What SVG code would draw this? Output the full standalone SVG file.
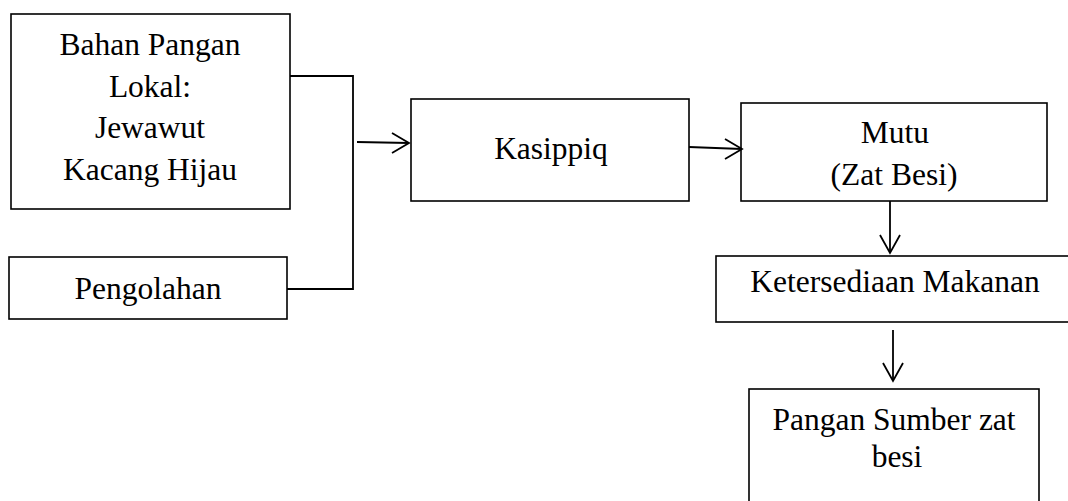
<svg xmlns="http://www.w3.org/2000/svg" width="1068" height="501" viewBox="0 0 1068 501">
<style>
.box{fill:#fff;stroke:#000;stroke-width:1.6}
.ln{fill:none;stroke:#000;stroke-width:1.8}
.ah{fill:none;stroke:#000;stroke-width:1.8;stroke-linejoin:miter}
text{font-family:"Liberation Serif","Times New Roman",serif;font-size:31.5px;fill:#000;text-anchor:middle}
</style>
<rect width="1068" height="501" fill="#fff"/>
<g id="bahan">
<rect class="box" x="11" y="14" width="279" height="195"/>
<text x="150" y="55">Bahan Pangan</text>
<text x="150" y="97">Lokal:</text>
<text x="150" y="138">Jewawut</text>
<text x="150" y="180">Kacang Hijau</text>
</g>
<g id="pengolahan">
<rect class="box" x="9" y="257" width="278" height="62"/>
<text x="148" y="299">Pengolahan</text>
</g>
<g id="kasippiq">
<rect class="box" x="411" y="99" width="278" height="102"/>
<text x="551" y="159">Kasippiq</text>
</g>
<g id="mutu">
<rect class="box" x="741" y="103" width="306" height="98"/>
<text x="895" y="143">Mutu</text>
<text x="894" y="185">(Zat Besi)</text>
</g>
<g id="ketersediaan">
<rect class="box" x="716" y="256" width="360" height="66"/>
<text x="895" y="292">Ketersediaan Makanan</text>
</g>
<g id="pangan">
<rect class="box" x="749" y="389" width="290" height="130"/>
<text x="894" y="430">Pangan Sumber zat</text>
<text x="897" y="467">besi</text>
</g>
<g id="connectors">
<polyline class="ln" points="290,76 353,76 353,289 287,289"/>
<line class="ln" x1="357" y1="142" x2="409" y2="143"/>
<polyline class="ah" points="392,133 409,143 392,153"/>
<line class="ln" x1="689" y1="147" x2="742" y2="149"/>
<polyline class="ah" points="725,139 742,149 725,159"/>
<line class="ln" x1="890" y1="201" x2="890" y2="253"/>
<polyline class="ah" points="880,235 890,253 900,235"/>
<line class="ln" x1="893" y1="330" x2="893" y2="381"/>
<polyline class="ah" points="883,363 893,381 903,363"/>
</g>
</svg>
